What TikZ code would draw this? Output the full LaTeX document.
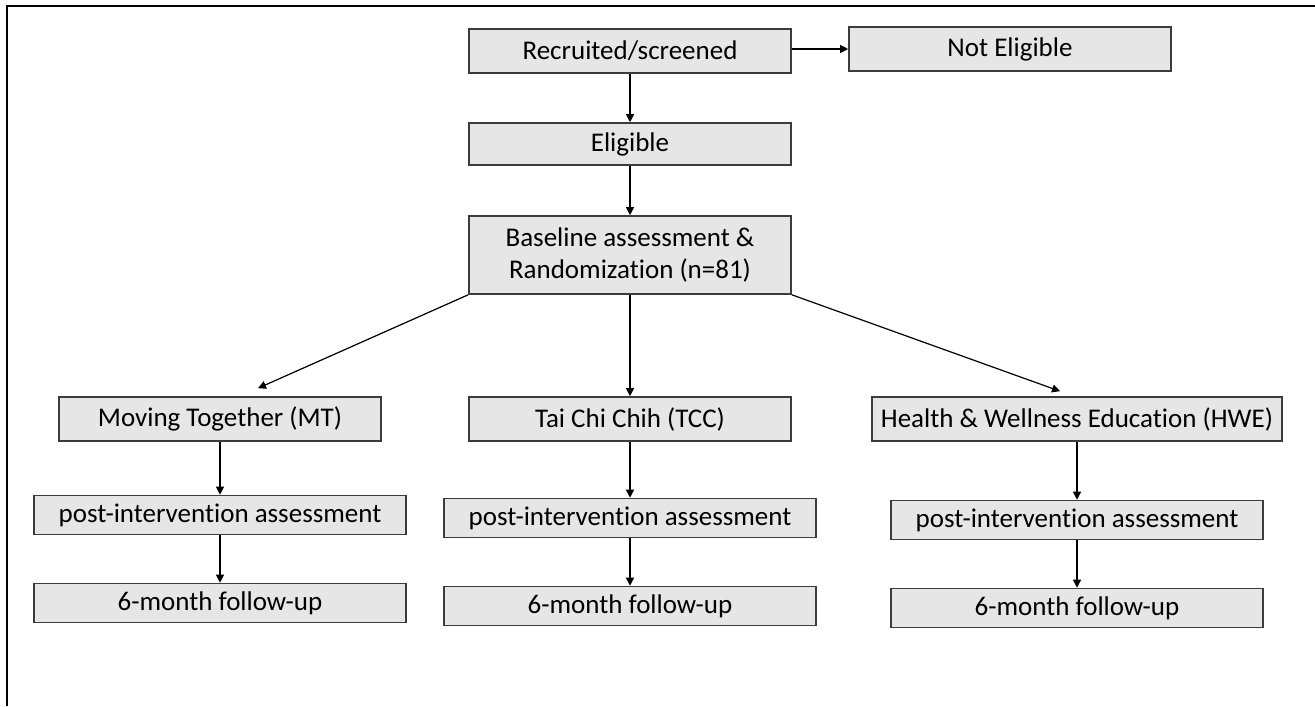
\documentclass[tikz,border=0pt]{standalone}
\usepackage{fontspec}
\setmainfont{Carlito}[Ligatures=NoCommon]
\usetikzlibrary{arrows.meta}

\definecolor{boxfill}{HTML}{E6E6E6}
\definecolor{boxline}{HTML}{3C3C3C}

\tikzset{
  stage/.style={draw=boxline, line width=0.8pt, fill=boxfill, inner sep=2pt,
    minimum width=161pt, minimum height=22pt, align=center,
    font=\fontsize{13.5}{16}\selectfont},
  arr/.style={-{Triangle[length=4pt,width=4pt]}, line width=0.6pt},
}

\begin{document}
\begin{tikzpicture}[x=0.5pt,y=-0.5pt]
    \useasboundingbox (0,0) rectangle (1315,706);
    \draw[line width=1pt] (7,706) -- (7,6) -- (1315,6);

    \node[stage] (rec) at (630,51) {Recruited/screened};
    \node[stage] (notel) at (1010,49) {Not Eligible};
    \node[stage, minimum height=21pt] (elig) at (630,144) {Eligible};
    \node[stage, minimum height=39pt] (base) at (630,255)
      {Baseline assessment \&\\Randomization (n=81)};

    \draw[arr] (rec.east |- notel) -- (notel.west);
    \draw[arr] (rec) -- (elig);
    \draw[arr] (elig) -- (base);

    \foreach \n/\x/\w/\t in {mt/220/161/{Moving Together (MT)},
        tcc/630/161/{Tai Chi Chih (TCC)},
        hwe/1077/205/{Health \& Wellness Education (HWE)}} {
      \node[stage, minimum width=\w pt] (\n) at (\x,419) {\t};
    }

    \draw[arr] (base.south west) -- ([xshift=19pt,yshift=4pt]mt.north);
    \draw[arr] (base) -- (tcc);
    \draw[arr] (base.south east) -- ([xshift=-8.5pt,yshift=2.5pt]hwe.north);

    \foreach \n/\x/\y in {mt/220/515, tcc/630/518, hwe/1077/520} {
      \node[stage, minimum width=186pt, minimum height=19.5pt] (\n-post) at (\x,\y)
        {post-intervention assessment};
      \node[stage, minimum width=186pt, minimum height=19.5pt] (\n-fu) at (\x,\y+88)
        {6-month follow-up};
      \draw[arr] (\n) -- (\n-post);
      \draw[arr] (\n-post) -- (\n-fu);
    }
\end{tikzpicture}
\end{document}
